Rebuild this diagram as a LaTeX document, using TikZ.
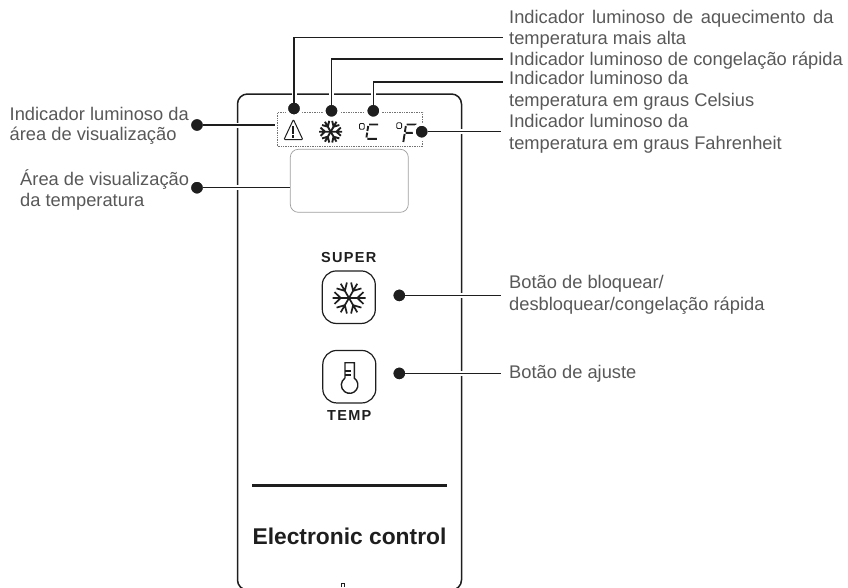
\documentclass[tikz,border=0pt]{standalone}
\usepackage{fontspec}
\setmainfont{Liberation Sans}
\newfontfamily\capsfont[LetterSpace=9]{Liberation Sans}
\usetikzlibrary{arrows.meta,positioning,calc}
\definecolor{inkdark}{HTML}{1E1E1E}
\definecolor{labelgray}{HTML}{585858}
\tikzset{
  leaderdot/.style={circle,draw=white,line width=3pt,fill=inkdark,minimum size=15pt,inner sep=0pt,outer sep=-1.5pt},
  leaderline/.style={draw=inkdark,line width=1.3pt,preaction={draw=white,line width=5pt}},
  calllabel/.style={anchor=base west,inner sep=0pt,align=left,text=labelgray,font=\fontsize{18.3}{21}\selectfont},
  keybox/.style={draw=inkdark,line width=1.2pt,rounded corners=14pt,minimum width=53pt,minimum height=52.5pt,inner sep=0pt},
  keylabel/.style={inner sep=0pt,text=inkdark,font=\capsfont\bfseries\fontsize{14.5}{16}\selectfont},
  segment/.style={draw=inkdark,line width=1.9pt},
  snowflake/.pic={
    \foreach \armangle in {0,60,...,300}{
      \draw[inkdark,rotate=\armangle] (0,0) -- (1,0) (0.5,0) -- (0.88,0.36) (0.5,0) -- (0.88,-0.36);
    }
  }
}
\begin{document}
\begin{tikzpicture}[x=1pt,y=-1pt]
  \useasboundingbox (0,0) rectangle (848,587);
  \clip (0,0) rectangle (848,587);
  \draw[inkdark,line width=1.5pt,rounded corners=10pt] (237.5,590) rectangle (461.5,94);
  \draw[inkdark,line width=0.8pt] (341.5,587) -- (341.5,583.5) -- (344.5,583.5) -- (344.5,587);
  \node[draw=black!55,densely dotted,line width=0.7pt,minimum width=145pt,minimum height=34pt,inner sep=0pt] (indicatorbox) at (350.2,129.3) {};
  \node[draw=black!38,line width=0.7pt,rounded corners=8pt,minimum width=118pt,minimum height=63pt,inner sep=0pt] (display) at (349.3,180.8) {};
  \draw[inkdark,line width=1pt,line join=round,rounded corners=1pt] (293.4,119.5) -- (302.8,139.6) -- (284,139.6) -- cycle;
  \draw[inkdark,line width=1.9pt] (293.4,126) -- (293.4,133.6) (293.4,135) -- (293.4,137.6);
  \pic[line width=1.9pt,scale=11.5] at (330.7,131.7) {snowflake};
  \draw[inkdark,line width=0.8pt,rounded corners=1pt] (359.5,123.5) rectangle (364.3,129.2);
  \draw[segment] (369,124.5) -- (378.2,124.5) (368.2,126) -- (367.4,131) (367.2,132.6) -- (366.4,137.4) (367.4,138.8) -- (376.8,138.8);
  \draw[inkdark,line width=0.8pt,rounded corners=1pt] (396.8,122.8) rectangle (401.6,128.5);
  \draw[segment] (406.5,124.5) -- (416.5,124.5) (405.8,126) -- (404.9,132) (405.6,132.8) -- (415,132.8) (404.6,134) -- (403.3,142);
  \node[keybox] (superkey) at (348.8,297.2) {};
  \pic[line width=1.7pt,scale=16.5] at (349,298) {snowflake};
  \node[keybox] (tempkey) at (349.3,376.7) {};
  \draw[inkdark,line width=1.4pt] (345,378.2) -- (345,362.7) -- (354.3,362.7) -- (354.3,378.2) arc[start angle=-55.5,end angle=235.5,radius=8.3];
  \draw[inkdark,line width=1.4pt] (345,371) -- (350.5,371) (345,375) -- (350.5,375);
  \node[keylabel,above=7.2pt of superkey] (superlabel) {SUPER};
  \node[keylabel,below=7.2pt of tempkey] (templabel) {TEMP};
  \node[minimum width=195pt,minimum height=2.7pt,inner sep=0pt,fill=inkdark] (panelrule) at (349.5,485.3) {};
  \node[anchor=base,inner sep=0pt,text=inkdark,font=\bfseries\fontsize{22.8}{26}\selectfont] (paneltitle) at (349.5,544) {Electronic control};
  \node[leaderdot] (warndot) at (294,108.5) {};
  \node[leaderdot] (flakedot) at (331.5,110.8) {};
  \node[leaderdot] (celsiusdot) at (373.3,110.8) {};
  \node[leaderdot] (fahrdot) at (421.7,131.7) {};
  \node[leaderdot] (viewdot) at (197,125) {};
  \node[leaderdot] (areadot) at (197,187.7) {};
  \node[leaderdot] (superdot) at (399.3,295.4) {};
  \node[leaderdot] (tempdot) at (399.3,373.4) {};
  \coordinate (warnend) at (503,37.5);
  \coordinate (flakeend) at (503,59);
  \coordinate (celsiusend) at (503,82);
  \coordinate (fahrend) at (500.5,131.7);
  \coordinate (viewend) at (274.5,125);
  \coordinate (superend) at (500.7,295.4);
  \coordinate (tempend) at (500.7,373.4);
  \draw[leaderline] (warndot) |- (warnend);
  \draw[leaderline] (flakedot) |- (flakeend);
  \draw[leaderline] (celsiusdot) |- (celsiusend);
  \draw[leaderline] (fahrdot) -- (fahrend);
  \draw[leaderline] (viewdot) -- (viewend);
  \draw[leaderline] (areadot) -- (areadot -| display.west);
  \draw[leaderline] (superdot) -- (superend);
  \draw[leaderline] (tempdot) -- (tempend);
  \node[calllabel] (warntext) at (509,44) {{\spaceskip=7.6pt Indicador luminoso de aquecimento da}\\temperatura mais alta};
  \node[calllabel] (flaketext) at (509,65) {Indicador luminoso de congelação rápida};
  \node[calllabel] (celsiustext) at (509,106) {Indicador luminoso da\\[1pt]temperatura em graus Celsius};
  \node[calllabel] (fahrtext) at (509,149) {Indicador luminoso da\\[1pt]temperatura em graus Fahrenheit};
  \node[calllabel] (viewtext) at (9.5,140.7) {Indicador luminoso da\\[-1pt]área de visualização};
  \node[calllabel] (areatext) at (20,206) {Área de visualização\\da temperatura};
  \node[calllabel] (supertext) at (509,310.7) {Botão de bloquear/\\[1pt]desbloquear/congelação rápida};
  \node[calllabel] (temptext) at (509,378.3) {Botão de ajuste};
\end{tikzpicture}
\end{document}
